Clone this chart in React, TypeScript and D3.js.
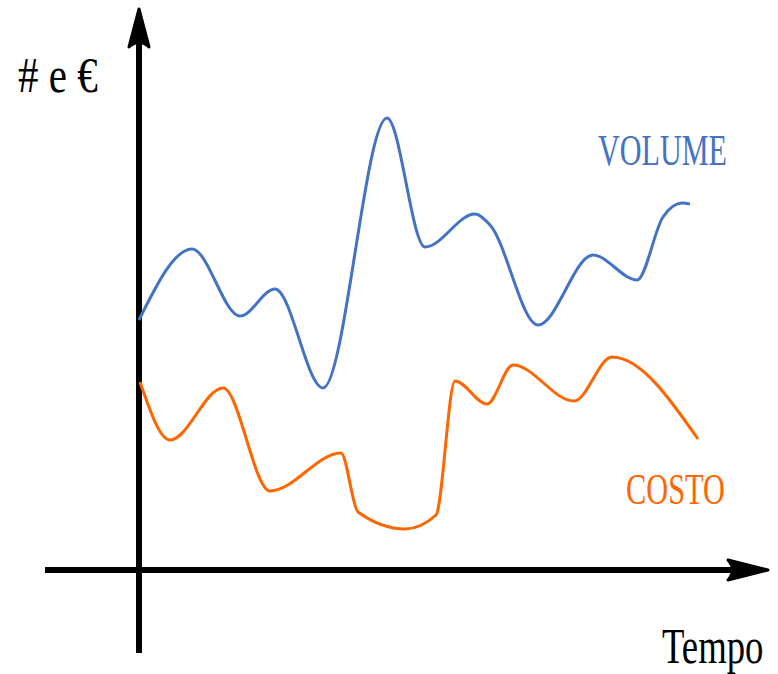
import React from "react";
import * as d3 from "d3";

const W = 778;
const H = 674;

// time units (arbitrary) and values (arbitrary)
const volumeTime = [0, 53, 101, 136, 184, 248, 286, 336, 351, 399, 454, 498, 524, 543, 551];
const volumeValue = [250, 321, 254, 281, 182, 452, 323, 356, 345, 245, 315, 290, 353, 367, 366];

const costoTime = [1, 31, 84, 131, 202, 219, 266, 297, 316, 348, 374, 435, 473, 559];
const costoValue = [188, 130, 182, 79, 117, 58, 41, 55, 189, 166, 205, 169, 213, 131];

const yLabel = "# e €";
const xLabel = "Tempo";
const seriesLabels = ["VOLUME", "COSTO"];
const seriesColors = ["#4472C4", "#FF6600"];

export default function App() {
  const x = d3.scaleLinear().domain([0, 560]).range([139, 699]);
  const y = d3.scaleLinear().domain([0, 500]).range([570, 70]);

  const line = d3
    .line<[number, number]>()
    .x((d) => x(d[0]))
    .y((d) => y(d[1]))
    .curve(d3.curveMonotoneX);

  const vol = volumeTime.map((t, i) => [t, volumeValue[i]] as [number, number]);
  const cos = costoTime.map((t, i) => [t, costoValue[i]] as [number, number]);

  const ax = x(0);
  const ay = y(0);
  const font = "'Liberation Serif', 'DejaVu Serif', serif";

  return (
    <svg
      width={W}
      height={H}
      style={{ position: "absolute", left: 0, top: 0, background: "#fff" }}
    >
      {/* axes */}
      <line x1={ax} x2={ax} y1={653} y2={30} stroke="#000" strokeWidth={6} />
      <line x1={45} x2={750} y1={ay} y2={ay} stroke="#000" strokeWidth={6} />
      <path
        d={`M ${ax} 9 L ${ax - 10} 47 Q ${ax} 38 ${ax + 10} 47 Z`}
        fill="#000"
        stroke="#000"
        strokeWidth={3}
        strokeLinejoin="round"
      />
      <path
        d={`M 768 ${ay} L 728 ${ay - 10} Q 737 ${ay} 728 ${ay + 10} Z`}
        fill="#000"
        stroke="#000"
        strokeWidth={3}
        strokeLinejoin="round"
      />

      {/* curves */}
      <path d={line(vol) || ""} fill="none" stroke={seriesColors[0]} strokeWidth={3} />
      <path d={line(cos) || ""} fill="none" stroke={seriesColors[1]} strokeWidth={3} />

      {/* labels (condensed serif) */}
      <text transform="translate(18,92) scale(0.82,1)" fontFamily={font} fontSize={50} fill="#000">
        {yLabel}
      </text>
      <text transform="translate(662,663) scale(0.72,1)" fontFamily={font} fontSize={51} fill="#000">
        {xLabel}
      </text>
      <text transform="translate(598,165) scale(0.67,1)" fontFamily={font} fontSize={45} fill={seriesColors[0]}>
        {seriesLabels[0]}
      </text>
      <text transform="translate(626,504) scale(0.69,1)" fontFamily={font} fontSize={44} fill={seriesColors[1]}>
        {seriesLabels[1]}
      </text>
    </svg>
  );
}
